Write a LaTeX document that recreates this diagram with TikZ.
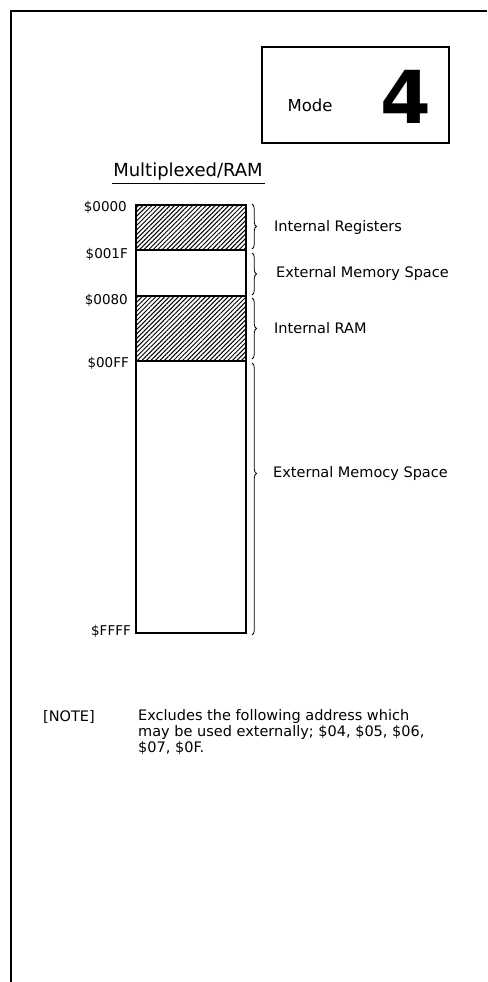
\documentclass[tikz,border=0pt]{standalone}
\usepackage{fontspec}
\setmainfont{DejaVu Sans}
\usetikzlibrary{patterns.meta,decorations.pathreplacing}
\begin{document}
\begin{tikzpicture}[x=1pt,y=-1pt,
  lbl/.style={anchor=west,inner sep=0pt,font=\fontsize{14.5}{16}\selectfont},
  addr/.style={anchor=east,inner sep=0pt,font=\fontsize{13.5}{15}\selectfont},
  hatch/.style={pattern={Lines[angle=45,distance=3.2pt,line width=1pt]}},
  memline/.style={line width=2.2pt},
  bracestyle/.style={decorate,decoration={brace,amplitude=4.5pt},line width=0.8pt}]
\useasboundingbox (0,0) rectangle (487,982);
% open frame
\draw[line width=2.6pt] (487,11) -- (11,11) -- (11,982);
% Mode box
\draw[line width=1.8pt] (262,47) rectangle (449,143);
\node[inner sep=0pt,font=\fontsize{16.5}{18}\selectfont] (mode) at (310,105) {Mode};
\node[inner sep=0pt,font=\fontsize{73}{75}\selectfont\bfseries] (four) at (406,97) {4};
% title
\node[inner sep=0pt,font=\fontsize{18}{20}\selectfont] (title) at (188,172) {Multiplexed/RAM};
\draw[line width=1.3pt] (112,183.5) -- (265,183.5);
% memory map
\fill[hatch] (136,205) rectangle (246,250);
\fill[hatch] (136,296) rectangle (246,361);
\draw[memline] (136,205) rectangle (246,633);
\draw[memline] (136,250) -- (246,250);
\draw[memline] (136,296) -- (246,296);
\draw[memline] (136,361) -- (246,361);
% addresses
\node[addr] (a0) at (127,207) {\$0000};
\node[addr] (a1) at (128,254) {\$001F};
\node[addr] (a2) at (128,300) {\$0080};
\node[addr] (a3) at (129,363) {\$00FF};
\node[addr] (a4) at (131,631) {\$FFFF};
% braces
\coordinate (b1t) at (252,204); \coordinate (b1b) at (252,249);
\coordinate (b2t) at (252,253); \coordinate (b2b) at (252,295);
\coordinate (b3t) at (252,298); \coordinate (b3b) at (252,359);
\coordinate (b4t) at (252,363); \coordinate (b4b) at (252,635);
\draw[bracestyle] (b1t) -- (b1b);
\draw[bracestyle] (b2t) -- (b2b);
\draw[bracestyle] (b3t) -- (b3b);
\draw[bracestyle,decoration={aspect=0.406}] (b4t) -- (b4b);
% labels
\node[lbl] (l1) at (274,227) {Internal Registers};
\node[lbl] (l2) at (276,273) {External Memory Space};
\node[lbl] (l3) at (274,328) {Internal RAM};
\node[lbl] (l4) at (273,473) {External Memocy Space};
% note
\node[lbl] (nt) at (43,717) {[NOTE]};
\node[anchor=north west,inner sep=0pt,align=left,font=\fontsize{14.5}{16.3}\selectfont] (ntx) at (138,709) {Excludes the following address which\\may be used externally; \$04, \$05, \$06,\\\$07, \$0F.};
\end{tikzpicture}
\end{document}
